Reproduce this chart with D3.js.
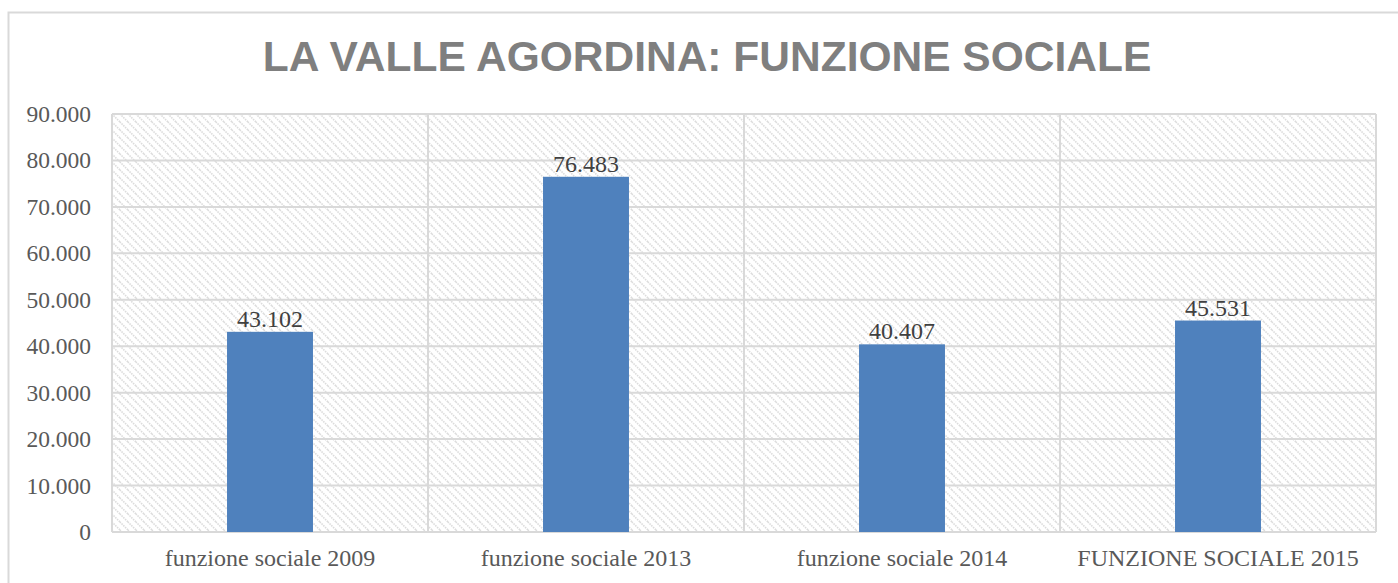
<!DOCTYPE html>
<html lang="it">
<head>
  <meta charset="UTF-8">
  <title>La Valle Agordina: funzione sociale</title>
  <script src="https://d3js.org/d3.v7.min.js"></script>
  <style>
    body { margin: 0; background: #fff; }
    .tick-y text { font-family: "Liberation Serif", serif; font-size: 23.5px; fill: #595959; }
    .tick-x text { font-family: "Liberation Serif", serif; font-size: 24px; fill: #595959; }
  </style>
</head>
<body>
  <div id="chart"></div>
  <script>
    // data
    const categories = ["funzione sociale 2009", "funzione sociale 2013", "funzione sociale 2014", "FUNZIONE SOCIALE 2015"];
    const values = [43102, 76483, 40407, 45531];
    const yTicks = [0, 10000, 20000, 30000, 40000, 50000, 60000, 70000, 80000, 90000];

    const W = 1398, H = 583;
    const margin = { top: 114, right: 22, bottom: 51, left: 112 };
    const width = W - margin.left - margin.right;
    const height = H - margin.top - margin.bottom;

    // Italian style: dot as thousands separator
    const fmt = v => v === 0 ? "0" : d3.format(",")(v).replace(/,/g, ".");

    const svg = d3.select("#chart").append("svg")
      .attr("width", W)
      .attr("height", H);

    const defs = svg.append("defs");
    const pat = defs.append("pattern")
      .attr("id", "hatch")
      .attr("patternUnits", "userSpaceOnUse")
      .attr("width", 8)
      .attr("height", 8);
    pat.append("rect").attr("width", 8).attr("height", 8).attr("fill", "#fff");
    pat.append("path")
      .attr("d", "M-2,-2 L10,10 M-2,6 L2,10 M6,-2 L10,2")
      .attr("stroke", "#dcdcdc")
      .attr("stroke-width", 1.6)
      .attr("stroke-dasharray", "1.5,1");

    // outer chart border
    svg.append("rect")
      .attr("x", 8.5).attr("y", 12.5)
      .attr("width", W + 20).attr("height", H + 20)
      .attr("fill", "none")
      .attr("stroke", "#d9d9d9")
      .attr("stroke-width", 2);

    svg.append("text")
      .attr("x", 707)
      .attr("y", 71)
      .attr("text-anchor", "middle")
      .style("font-family", "'Liberation Sans', Arial, sans-serif")
      .style("font-weight", "bold")
      .style("font-size", "42.5px")
      .style("fill", "#7f7f7f")
      .text("LA VALLE AGORDINA: FUNZIONE SOCIALE");

    const g = svg.append("g")
      .attr("transform", `translate(${margin.left},${margin.top})`);

    const x = d3.scaleBand()
      .domain(categories)
      .range([0, width])
      .paddingInner(0)
      .paddingOuter(0);

    const y = d3.scaleLinear()
      .domain([0, 90000])
      .range([height, 0]);

    // plot area hatch
    g.append("rect")
      .attr("width", width)
      .attr("height", height)
      .attr("fill", "url(#hatch)");

    // horizontal gridlines
    g.selectAll(".hgrid")
      .data(yTicks)
      .enter().append("line")
      .attr("x1", 0).attr("x2", width)
      .attr("y1", d => y(d)).attr("y2", d => y(d))
      .attr("stroke", "#d9d9d9")
      .attr("stroke-width", 2);

    // vertical gridlines at category boundaries
    const bounds = categories.map(c => x(c)).concat([width]);
    g.selectAll(".vgrid")
      .data(bounds)
      .enter().append("line")
      .attr("x1", d => d).attr("x2", d => d)
      .attr("y1", 0).attr("y2", height)
      .attr("stroke", "#d9d9d9")
      .attr("stroke-width", 2);

    // bars
    const barW = x.bandwidth() * 0.272;
    g.selectAll(".bar")
      .data(values)
      .enter().append("rect")
      .attr("class", "bar")
      .attr("x", (d, i) => x(categories[i]) + x.bandwidth() / 2 - barW / 2)
      .attr("y", d => y(d))
      .attr("width", barW)
      .attr("height", d => height - y(d))
      .attr("fill", "#4f81bd");

    // data labels
    g.selectAll(".lbl")
      .data(values)
      .enter().append("text")
      .attr("x", (d, i) => x(categories[i]) + x.bandwidth() / 2)
      .attr("y", d => y(d) - 5)
      .attr("text-anchor", "middle")
      .style("font-family", "'Liberation Serif', serif")
      .style("font-size", "24px")
      .style("fill", "#404040")
      .text(d => fmt(d));

    // y axis
    const yAxis = g.append("g")
      .attr("class", "tick-y")
      .call(d3.axisLeft(y).tickValues(yTicks).tickFormat(fmt).tickSize(0).tickPadding(21));
    yAxis.select(".domain").remove();

    // x axis
    const xAxis = g.append("g")
      .attr("class", "tick-x")
      .attr("transform", `translate(0,${height})`)
      .call(d3.axisBottom(x).tickSize(0).tickPadding(17));
    xAxis.select(".domain").remove();
  </script>
</body>
</html>
